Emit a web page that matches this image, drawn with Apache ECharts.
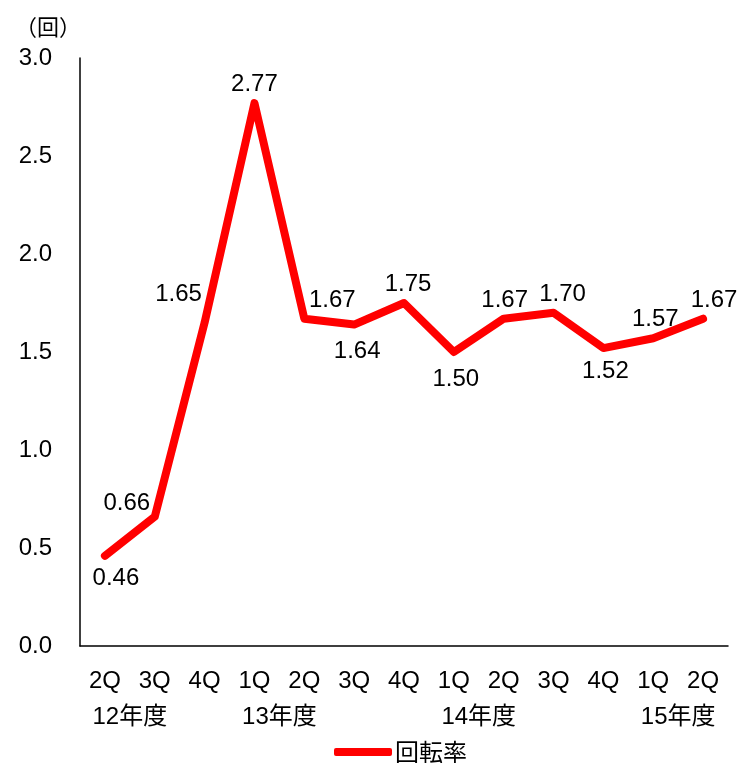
<!DOCTYPE html>
<html>
<head>
<meta charset="utf-8">
<script src="https://cdn.jsdelivr.net/npm/echarts@6/dist/echarts.min.js"></script>
<style>html,body{margin:0;padding:0;background:#fff}#c{width:741px;height:763px}</style>
</head>
<body>
<div id="c"></div>
<script>
var categories = ['2Q','3Q','4Q','1Q','2Q','3Q','4Q','1Q','2Q','3Q','4Q','1Q','2Q'];
var turnover = [0.46, 0.66, 1.65, 2.77, 1.67, 1.64, 1.75, 1.50, 1.67, 1.70, 1.52, 1.57, 1.67];
var yearLabels = ['12年度', '13年度', '14年度', '15年度'];
var yearPositions = [0.5, 3.5, 7.5, 11.5];
var yTicks = [0, 0.5, 1.0, 1.5, 2.0, 2.5, 3.0];
var seriesName = '回転率';
var unitLabel = '（回）';

// label placement (style only)
var labelPlace = [
  ['bottom', [11, 4]], ['top', [-28, 5]], ['top', [-26, -10]], ['top', [0, 0]],
  ['top', [28, 0]], ['bottom', [3, 8]], ['top', [4, 0]], ['bottom', [2, 9]],
  ['top', [1, 0]], ['top', [9, 0]], ['bottom', [2, 5]], ['top', [2, 0]], ['top', [11, 0]]
];

var FONT = "'Liberation Sans', Arial, 'Noto Sans CJK JP', sans-serif";
var data = turnover.map(function (v, i) {
  return { value: v, label: { position: labelPlace[i][0], offset: labelPlace[i][1] } };
});

var chart = echarts.init(document.getElementById('c'));
chart.setOption({
  animation: false,
  textStyle: { fontFamily: FONT },
  grid: { left: 80, right: 13, top: 58, bottom: 117 },
  graphic: [{
    type: 'text', left: 15, top: 16,
    style: { text: unitLabel, font: "22px 'Noto Sans CJK JP', sans-serif", fill: '#000' }
  }],
  legend: {
    data: [seriesName], left: 329, top: 735, itemWidth: 58, itemHeight: 8, itemGap: 5,
    icon: 'roundRect',
    textStyle: { fontSize: 24, color: '#000', fontFamily: "'Noto Sans CJK JP', sans-serif", padding: [0, 0, 0, -2] }
  },
  xAxis: [{
    type: 'category', data: categories, boundaryGap: true,
    axisLine: { onZero: false, lineStyle: { color: '#000', width: 1.5 } },
    axisTick: { show: false },
    axisLabel: { color: '#000', fontSize: 24, margin: 23, interval: 0, fontFamily: FONT }
  }, {
    type: 'value', min: -0.5, max: 12.5, interval: 0.5, position: 'bottom',
    axisLine: { show: false, onZero: false }, axisTick: { show: false }, splitLine: { show: false },
    axisLabel: {
      color: '#000', fontSize: 24, margin: 59, fontFamily: FONT,
      showMinLabel: false, showMaxLabel: false,
      formatter: function (v) {
        for (var k = 0; k < yearPositions.length; k++) {
          if (Math.abs(v - yearPositions[k]) < 1e-6) return yearLabels[k];
        }
        return '';
      }
    }
  }],
  yAxis: {
    type: 'value', min: yTicks[0], max: yTicks[yTicks.length - 1], interval: 0.5,
    axisLine: { show: true, onZero: false, lineStyle: { color: '#000', width: 1.5 } },
    axisTick: { show: false }, splitLine: { show: false },
    axisLabel: { color: '#000', fontSize: 24, margin: 28, fontFamily: FONT,
      formatter: function (v) { return v.toFixed(1); } }
  },
  series: [{
    name: seriesName, type: 'line', xAxisIndex: 0, data: data,
    symbol: 'circle', symbolSize: 1, showSymbol: true,
    lineStyle: { color: '#ff0000', width: 8, cap: 'round', join: 'round' },
    itemStyle: { color: '#ff0000' },
    label: { show: true, color: '#000', fontSize: 24, distance: 6, fontFamily: FONT,
      formatter: function (p) { return p.value.toFixed(2); } }
  }]
});
</script>
</body>
</html>
